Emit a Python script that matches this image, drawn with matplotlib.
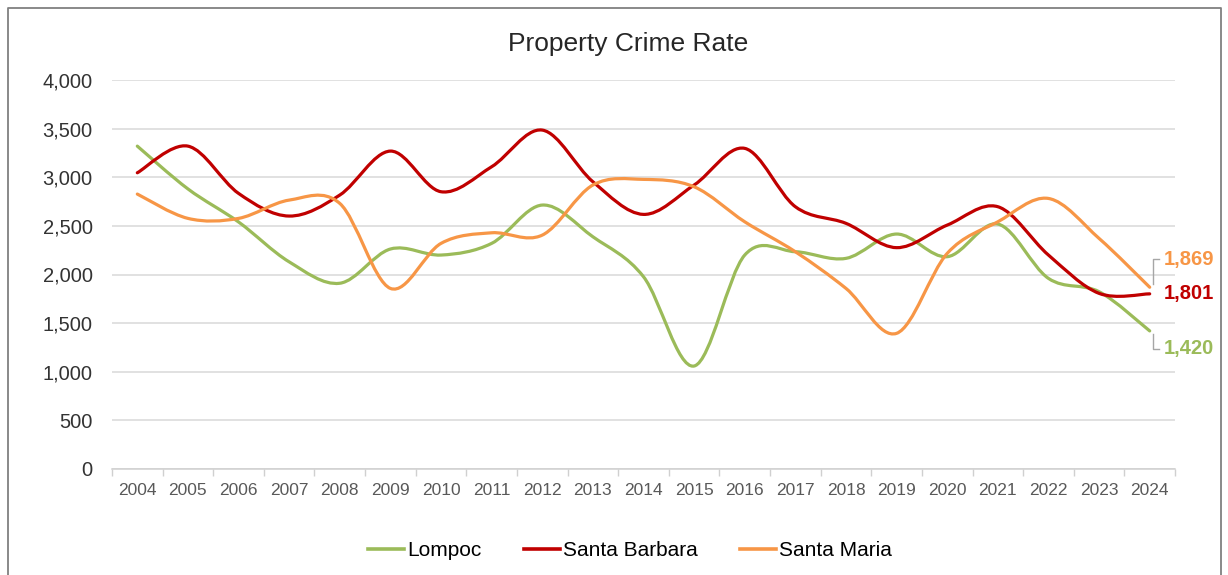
import matplotlib
matplotlib.use("Agg")
import matplotlib.pyplot as plt
from matplotlib.path import Path
from matplotlib.patches import PathPatch
from matplotlib.lines import Line2D
import numpy as np

plt.rcParams['font.family'] = ['Liberation Sans', 'DejaVu Sans']

years = [str(y) for y in range(2004, 2025)]
lompoc = [3320, 2880, 2540, 2130, 1910, 2262, 2200, 2320, 2714, 2388, 1977,
          1059, 2200, 2234, 2166, 2416, 2183, 2519, 1960, 1823, 1420]
santa_barbara = [3046, 3320, 2834, 2601, 2817, 3269, 2851, 3108, 3485, 2954, 2618,
                 2920, 3297, 2697, 2526, 2276, 2508, 2697, 2200, 1806, 1801]
santa_maria = [2827, 2577, 2577, 2765, 2731, 1857, 2320, 2429, 2405, 2920, 2978,
               2902, 2542, 2234, 1857, 1395, 2217, 2542, 2782, 2371, 1869]

series = [
    ("Lompoc", lompoc, "#9BBB59"),
    ("Santa Barbara", santa_barbara, "#C00000"),
    ("Santa Maria", santa_maria, "#F79646"),
]

W, H = 1228, 575
fig = plt.figure(figsize=(W / 100, H / 100), dpi=100)
ax = fig.add_axes([112 / W, 1 - 469 / H, 1063 / W, 389 / H])


def smooth_path(xs, ys):
    """Cubic Bezier path through the points (spreadsheet-style smoothing)."""
    pts = np.column_stack([xs, ys]).astype(float)
    n = len(pts)
    verts = [pts[0]]
    codes = [Path.MOVETO]
    for i in range(n - 1):
        p_prev = pts[i - 1] if i > 0 else pts[i]
        p0 = pts[i]
        p1 = pts[i + 1]
        p_next = pts[i + 2] if i + 2 < n else pts[i + 1]
        c1 = p0 + (p1 - p_prev) / 6.0
        c2 = p1 - (p_next - p0) / 6.0
        verts += [c1, c2, p1]
        codes += [Path.CURVE4] * 3
    return Path(verts, codes)


x = np.arange(len(years))
handles = []
for name, vals, color in series:
    patch = PathPatch(smooth_path(x, vals), facecolor="none", edgecolor=color,
                      lw=2.3, capstyle="round", joinstyle="round", zorder=3)
    ax.add_patch(patch)
    handles.append(Line2D([], [], color=color, lw=2.6, label=name))

ax.set_xlim(-0.5, len(years) - 0.5)
ax.set_ylim(0, 4000)
ax.set_yticks(np.arange(0, 4001, 500))
ax.set_yticklabels([f"{v:,}" for v in range(0, 4001, 500)])
ax.set_xticks(x)
ax.set_xticklabels(years)
ax.set_xticks(np.arange(-0.5, len(years)), minor=True)

ax.grid(axis="y", color="#D9D9D9", lw=1.1, zorder=0)
ax.set_axisbelow(True)
for s in ("left", "right", "top"):
    ax.spines[s].set_visible(False)
ax.spines["bottom"].set_color("#CFCFCF")
ax.spines["bottom"].set_linewidth(1.1)

ax.tick_params(axis="y", length=0, pad=14, labelsize=14.5, labelcolor="#333333")
ax.tick_params(axis="x", which="major", length=0, pad=10, labelsize=12.5,
               labelcolor="#595959")
ax.tick_params(axis="x", which="minor", length=5, width=1, color="#D0D0D0")

# End-of-series value labels with leader lines
fig.canvas.draw()
label_specs = [
    (santa_maria, "#F79646", 28, True),
    (santa_barbara, "#C00000", 0, False),
    (lompoc, "#9BBB59", -18, True),
]
for vals, color, dy, leader in label_specs:
    px, py = ax.transData.transform((x[-1], vals[-1]))
    tx, ty = px + 14, py + dy
    fig.text(tx / W, ty / H, f"{vals[-1]:,}", color=color, fontsize=14.5,
             fontweight="bold", ha="left", va="center")
    if leader:
        lx = px + 3
        fig.add_artist(Line2D([lx, lx, lx + 6], [py + (3 if dy > 0 else -3), ty, ty],
                              transform=None, color="#A6A6A6", lw=1))

fig.text(628 / W, 1 - 44 / H, "Property Crime Rate", fontsize=19,
         color="#262626", ha="center", va="center")

fig.legend(handles=handles, loc="center", bbox_to_anchor=(630 / W, 1 - 551 / H),
           ncol=3, frameon=False, fontsize=15, handlelength=1.75,
           handletextpad=0.15, columnspacing=2.0)

# Outer chart border
border = dict(transform=None, color="#808080", lw=1.3)
fig.add_artist(Line2D([8, 8, 1221, 1221], [0, H - 8, H - 8, 0], **border))

fig.savefig("out.png", dpi=100)
